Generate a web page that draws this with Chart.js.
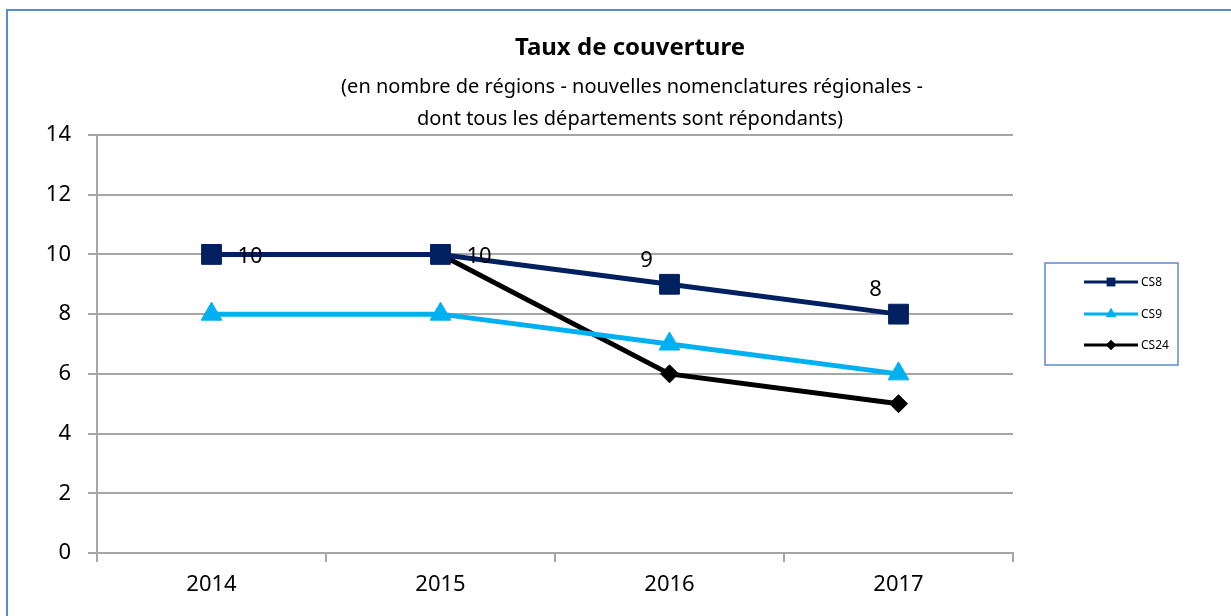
<!DOCTYPE html>
<html>
<head>
<meta charset="utf-8">
<script src="https://cdn.jsdelivr.net/npm/chart.js@4"></script>
<style>
  html, body { margin: 0; padding: 0; background: #fff; }
  #wrap { position: relative; width: 1231px; height: 616px; }
</style>
</head>
<body>
<div id="wrap"><canvas id="chart" width="1231" height="616"></canvas></div>
<script>
// données du graphique
const annees = ["2014", "2015", "2016", "2017"];
const cs8 = [10, 10, 9, 8];
const cs9 = [8, 8, 7, 6];
const cs24 = [10, 10, 6, 5];
const yTicks = [0, 2, 4, 6, 8, 10, 12, 14];

const titre = "Taux de couverture";
const sousTitre = [
  "(en nombre de régions - nouvelles nomenclatures régionales -",
  "dont tous les départements sont répondants)",
];

const police = "'Noto Sans', sans-serif";
const gris = "#a6a6a6";

// cadre, titre, étiquettes et légende
const decorPlugin = {
  id: "decor",
  afterDraw(chart) {
    const ctx = chart.ctx;
    ctx.save();
    // cadre extérieur
    ctx.strokeStyle = "#5b8bd0";
    ctx.lineWidth = 2;
    ctx.beginPath();
    ctx.moveTo(7, 620);
    ctx.lineTo(7, 10);
    ctx.lineTo(1235, 10);
    ctx.stroke();

    // titre
    ctx.fillStyle = "#000";
    ctx.textAlign = "center";
    ctx.textBaseline = "middle";
    ctx.font = "bold 24px " + police;
    ctx.fillText(titre, 630, 48);
    ctx.font = "20px " + police;
    ctx.fillText(sousTitre[0], 632, 87);
    ctx.fillText(sousTitre[1], 630, 119);

    // étiquettes de la série CS8
    const meta = chart.getDatasetMeta(0);
    ctx.font = "22px " + police;
    meta.data.forEach((pt, i) => {
      if (i < 2) {
        ctx.textAlign = "left";
        ctx.fillText(String(cs8[i]), pt.x + 26, pt.y + 2);
      } else {
        ctx.textAlign = "center";
        ctx.fillText(String(cs8[i]), pt.x - 23, pt.y - 24);
      }
    });

    // légende
    ctx.strokeStyle = "#5b8bd0";
    ctx.lineWidth = 1.5;
    ctx.strokeRect(1045, 263, 133, 102);
    const lignesY = [282, 314, 345];
    const tailles = [6, 6, 5];
    chart.data.datasets.forEach((ds, i) => {
      const y = lignesY[i];
      ctx.strokeStyle = ds.borderColor;
      ctx.lineWidth = 3;
      ctx.beginPath();
      ctx.moveTo(1084, y);
      ctx.lineTo(1138, y);
      ctx.stroke();
      ctx.fillStyle = ds.borderColor;
      Chart.helpers.drawPoint(ctx, { pointStyle: ds.pointStyle, radius: tailles[i], rotation: 0, borderWidth: 0 }, 1111, y);
      ctx.fill();
      ctx.fillStyle = "#000";
      ctx.textAlign = "left";
      ctx.font = "12px " + police;
      ctx.fillText(ds.label, 1141, y + 1);
    });
    ctx.restore();
  },
};

new Chart(document.getElementById("chart"), {
  type: "line",
  data: {
    labels: annees,
    datasets: [
      {
        label: "CS8",
        data: cs8,
        borderColor: "#002060",
        backgroundColor: "#002060",
        borderWidth: 5,
        pointStyle: "rect",
        pointRadius: 14,
        pointBorderWidth: 1,
      },
      {
        label: "CS9",
        data: cs9,
        borderColor: "#00b0f0",
        backgroundColor: "#00b0f0",
        borderWidth: 5,
        pointStyle: "triangle",
        pointRadius: 12,
        pointBorderWidth: 1,
      },
      {
        label: "CS24",
        data: cs24,
        borderColor: "#000000",
        backgroundColor: "#000000",
        borderWidth: 5,
        pointStyle: "rectRot",
        pointRadius: 9,
        pointBorderWidth: 1,
      },
    ],
  },
  options: {
    responsive: false,
    animation: false,
    layout: { padding: { left: 0, right: 218, top: 135, bottom: 0 } },
    plugins: {
      legend: { display: false },
      title: { display: false },
      tooltip: { enabled: false },
    },
    scales: {
      x: {
        offset: true,
        grid: {
          offset: true,
          drawOnChartArea: false,
          drawTicks: true,
          tickLength: 9,
          color: gris,
          lineWidth: 2,
        },
        border: { color: gris, width: 2 },
        ticks: { color: "#000", font: { family: police, size: 22 }, padding: 10 },
        afterFit(scale) { scale.height = 63; },
      },
      y: {
        min: 0,
        max: 14,
        afterBuildTicks(scale) { scale.ticks = yTicks.map((v) => ({ value: v })); },
        grid: { color: gris, lineWidth: 2, drawTicks: true, tickLength: 9 },
        border: { color: gris, width: 2 },
        ticks: { color: "#000", font: { family: police, size: 22 }, padding: 17 },
        afterFit(scale) { scale.width = 97; },
      },
    },
  },
  plugins: [decorPlugin],
});
</script>
</body>
</html>
